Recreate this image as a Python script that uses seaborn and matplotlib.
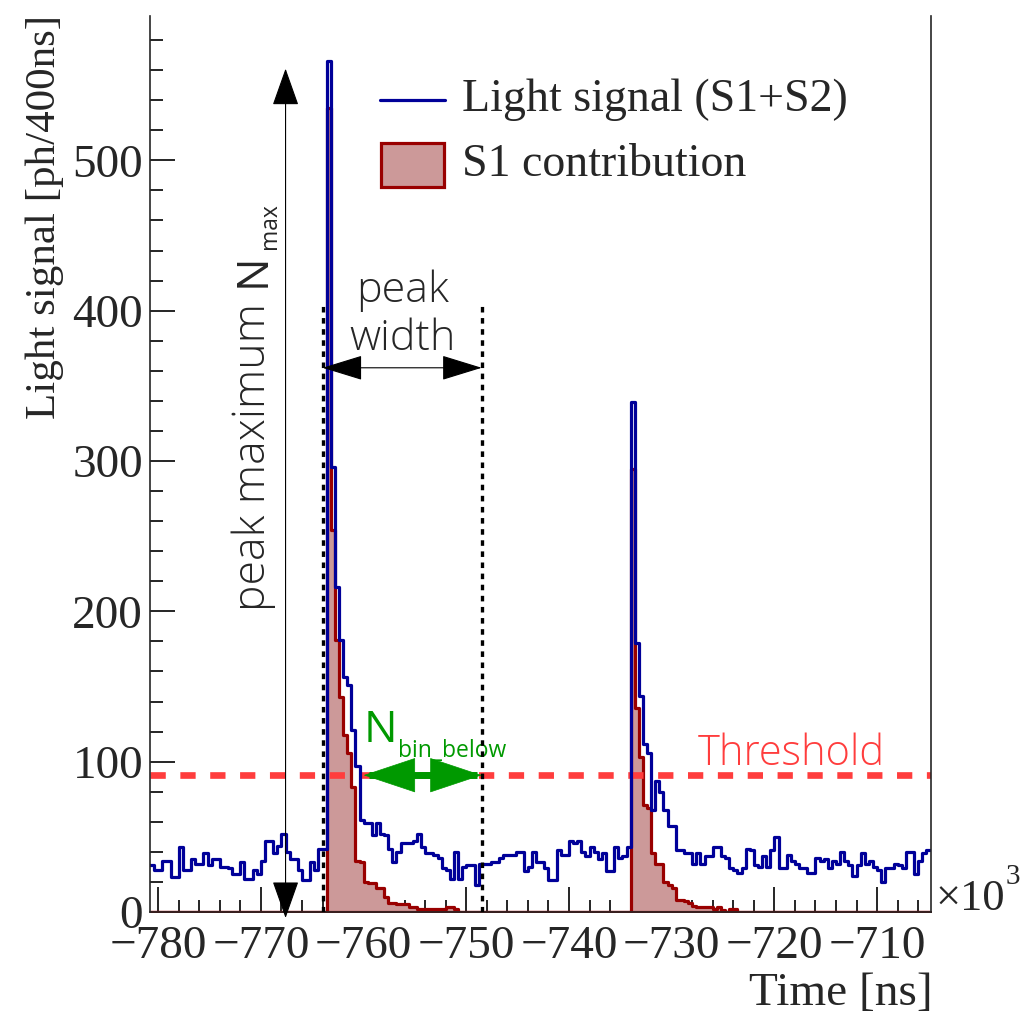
import numpy as np
import pandas as pd
import seaborn as sns
import matplotlib.pyplot as plt
from matplotlib.patches import Rectangle, FancyArrowPatch
from matplotlib.lines import Line2D
from matplotlib.ticker import MultipleLocator

# time axis in units of 10^3 ns, bins of 400 ns
t_start = -780.8
bin_width = 0.4

# light signal (S1+S2) per bin [ph/400ns]
light_signal = [
    31, 28, 28, 34, 34, 23, 23, 43, 28, 28, 35, 32, 32, 39, 31, 35, 35, 30, 30, 29,
    25, 25, 33, 22, 22, 28, 25, 34, 47, 47, 39, 44, 52, 40, 35, 35, 28, 21, 21, 33,
    28, 42, 42,
    566, 296, 216, 181, 156, 151, 121, 97, 61, 59, 59,
    51, 59, 52, 51, 42, 33, 40, 46, 46, 46, 47, 52, 43, 39, 39, 38, 36, 29, 28, 22,
    40, 22, 30, 31, 31, 18, 32, 32, 32, 33, 33, 36, 38, 38, 38, 40, 40, 27, 30, 40,
    33, 33, 29, 21, 21, 41, 38, 38, 47, 46, 47, 40, 37, 43, 40, 35, 39, 27, 27, 43,
    36, 37, 43,
    339, 179, 144, 112, 106, 68, 87, 80, 68, 57, 57, 41, 41, 39, 39, 32, 39, 32, 37,
    37, 43, 43,
    37, 36, 29, 28, 26, 29, 42, 41, 31, 30, 37, 30, 41, 50, 29, 29, 38, 34, 32, 29,
    29, 26, 26, 36, 34, 35, 29, 34, 32, 40, 34, 31, 24, 31, 39, 32, 34, 30, 28, 20,
    29, 29, 32, 31, 29, 40, 40, 25, 34, 39, 41,
]

# S1 contribution, only non-zero around the two pulses
s1_first = [535, 254, 181, 143, 118, 106, 83, 34, 33, 20, 19, 19, 16, 16, 10, 6,
            6, 5, 5, 5, 3, 3, 2, 2, 2, 2, 2, 2, 2, 3, 3, 2]
s1_first_start = -763.6
s1_second = [295, 136, 103, 71, 69, 39, 32, 32, 20, 18, 16, 8, 8, 7, 6, 4,
             3, 3, 3, 3, 2, 3, 1, 0, 2, 2]
s1_second_start = -734.0

threshold = 91
width_left, width_right = -764.0, -748.5
nmax_time = -767.6

n = len(light_signal)
edges = t_start + bin_width * np.arange(n + 1)
centers = edges[:-1] + bin_width / 2
s1 = np.zeros(n)
for vals, start in [(s1_first, s1_first_start), (s1_second, s1_second_start)]:
    i0 = int(round((start - t_start) / bin_width))
    s1[i0:i0 + len(vals)] = vals

df = pd.DataFrame({"time": centers, "total": light_signal, "s1": s1})

blue = "#000099"
dred = "#990000"
pink = "#cc9999"
thr_col = "#ff3d3d"
green = "#009900"
serif = "Liberation Serif"
sans = "Open Sans"

sns.set_style("ticks")
plt.rcParams["font.family"] = [serif, "DejaVu Serif"]
plt.rcParams["lines.scale_dashes"] = False

W, H = 1029, 1016
fig = plt.figure(figsize=(W / 100, H / 100), dpi=100)
ax = fig.add_axes([150 / W, 104 / H, 780.5 / W, 896 / H])

sns.histplot(data=df, x="time", weights="total", bins=edges.tolist(), element="step",
             fill=False, color=blue, linewidth=2.3, ax=ax)
sns.histplot(data=df, x="time", weights="s1", bins=edges.tolist(), element="step",
             fill=True, facecolor=pink, edgecolor=dred, alpha=1, linewidth=2.3, ax=ax)

ax.set_xlim(edges[0], edges[-1])
ax.set_ylim(0, 596)
ax.set_xlabel("")
ax.set_ylabel("")
ax.xaxis.set_major_locator(MultipleLocator(10))
ax.xaxis.set_minor_locator(MultipleLocator(2))
ax.yaxis.set_major_locator(MultipleLocator(100))
ax.yaxis.set_minor_locator(MultipleLocator(20))
ax.tick_params(which="both", direction="in", width=1.2, labelsize=34, color="black")
ax.tick_params(which="major", length=18)
ax.tick_params(which="minor", length=9)
ax.tick_params(axis="x", pad=10)
ax.tick_params(axis="y", pad=5)
ax.set_xticks(ax.get_xticks())
ax.set_xticklabels([f"\u2212{abs(int(v))}" for v in ax.get_xticks()])
ax.set_xlim(edges[0], edges[-1])
for s in ax.spines.values():
    s.set_linewidth(1.2)
ax.spines["top"].set_visible(False)

# threshold
ax.axhline(threshold, color=thr_col, lw=4.8, linestyle=(0, (11, 10.5)), zorder=1)
ax.text(-727.5, 98, "Threshold", color=thr_col, fontsize=30,
        family=sans, fontweight="light", ha="left", va="baseline")

# peak width markers
for xv in (width_left, width_right):
    ax.plot([xv, xv], [0, 404], color="black", lw=2.4, linestyle=(0, (4, 4)), zorder=4)
ax.add_patch(FancyArrowPatch((width_left, 362), (width_right, 362),
                             arrowstyle="<|-|>,head_length=26,head_width=8",
                             mutation_scale=1, shrinkA=0, shrinkB=0, lw=0.8,
                             color="black", zorder=5))
ax.text((width_left + width_right) / 2, 413, "peak", fontsize=31, family=sans,
        fontweight="light", ha="center", va="center")
ax.text((width_left + width_right) / 2, 381, "width", fontsize=31, family=sans,
        fontweight="light", ha="center", va="center")

# peak maximum
ax.add_patch(FancyArrowPatch((nmax_time, -4), (nmax_time, max(light_signal) - 5),
                             arrowstyle="<|-|>,head_length=24,head_width=8.5",
                             mutation_scale=1, shrinkA=0, shrinkB=0, lw=0.8,
                             color="black", zorder=5, clip_on=False))
ax.text(-769.6, 200, "peak maximum", rotation=90, rotation_mode="anchor",
        fontsize=32, family=sans, fontweight="light", ha="left", va="baseline")
ax.text(-769.6, 416, "N", rotation=90, rotation_mode="anchor",
        fontsize=32, family=sans, ha="left", va="baseline")
ax.text(-768.5, 441, "max", rotation=90, rotation_mode="anchor",
        fontsize=16.5, family=sans, ha="left", va="baseline")

# N bin below
ax.plot([-759.5, width_right - 0.5], [threshold, threshold], color=green, lw=5,
        solid_capstyle="butt", zorder=6)
ax.add_patch(FancyArrowPatch((-760.0, threshold), (width_right, threshold),
                             arrowstyle="<|-|>,head_length=36,head_width=12",
                             mutation_scale=1, shrinkA=0, shrinkB=0, lw=0.5,
                             color=green, zorder=7))
ax.text(-760.0, 113, "N", color=green, fontsize=32, family=sans,
        ha="left", va="baseline")
ax.text(-756.7, 103, "bin_below", color=green, fontsize=16.5, family=sans,
        ha="left", va="baseline")

# legend
def fx(px):
    return px / W

def fy(py):
    return 1 - py / H

fig.add_artist(Line2D([fx(380), fx(445)], [fy(100), fy(100)], color=blue, lw=2.3))
fig.text(fx(462), fy(100), "Light signal (S1+S2)", fontsize=33, va="center", ha="left")
fig.add_artist(Rectangle((fx(381), fy(187)), fx(63), 44 / H, facecolor=pink,
                         edgecolor=dred, lw=2.3))
fig.text(fx(462), fy(165), "S1 contribution", fontsize=33, va="center", ha="left")

# axis titles
fig.text(fx(933), fy(994), "Time [ns]", fontsize=34, ha="right", va="center")
fig.text(fx(45), fy(15), "Light signal [ph/400ns]", fontsize=31, rotation=90,
         ha="center", va="top")
fig.text(fx(935), fy(899), "\u00d710", fontsize=32, ha="left", va="center")
fig.text(fx(1006), fy(877), "3", fontsize=21, ha="left", va="center")

fig.savefig("out.png", dpi=100)
